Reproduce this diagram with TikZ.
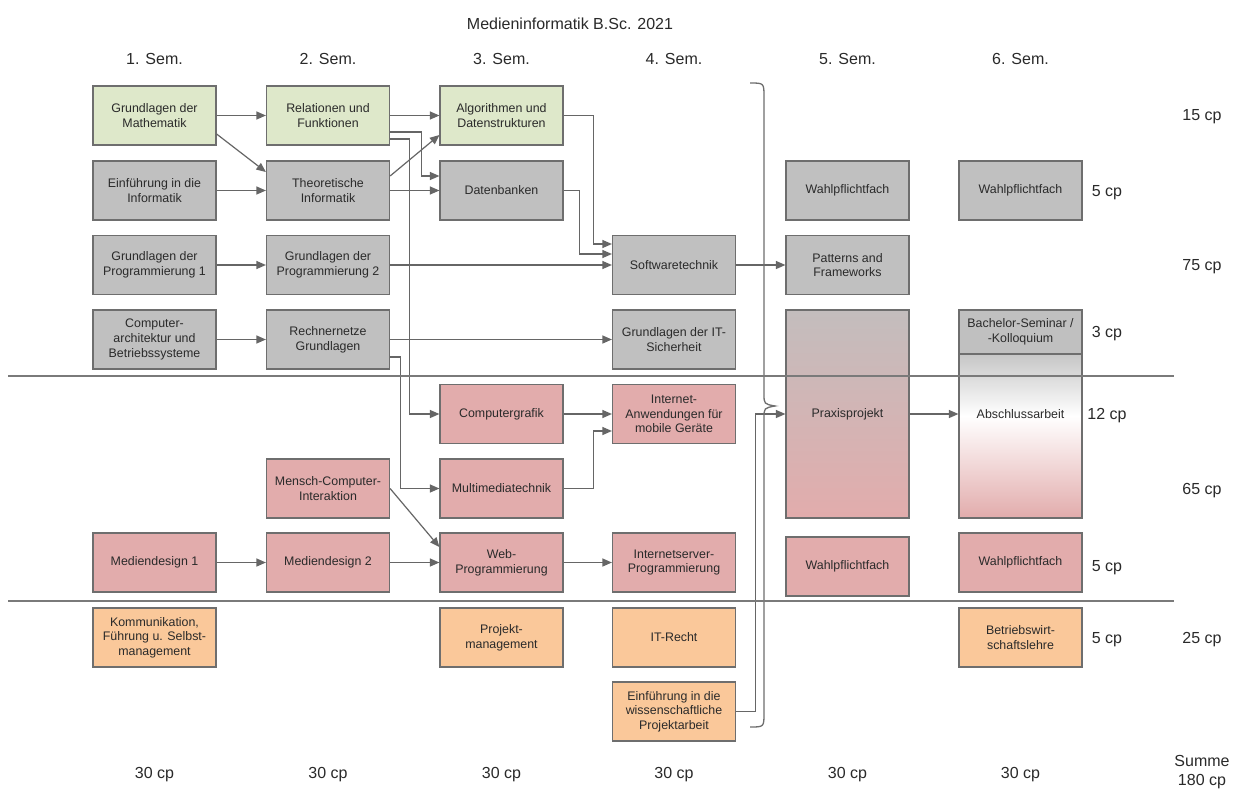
\documentclass[tikz,border=0pt]{standalone}
\usepackage{fontspec}
\setmainfont{Liberation Sans}
\usetikzlibrary{arrows.meta,calc}
\definecolor{bordc}{HTML}{6E6E6E}
\definecolor{linec}{HTML}{666666}
\definecolor{txtc}{HTML}{2A2A2A}
\definecolor{grn}{HTML}{DEE8CA}
\definecolor{gry}{HTML}{C0C0C0}
\definecolor{pnk}{HTML}{E2ACAC}
\definecolor{org}{HTML}{FAC89A}
\definecolor{prtop}{HTML}{C3BDBD}
\definecolor{abtop}{HTML}{C6C6C6}
\definecolor{sepc}{HTML}{7A7A7A}
\tikzset{
  mod/.style={draw=bordc, line width=1.2pt, minimum width=123pt, minimum height=59pt,
    inner sep=0pt, align=center, font=\fontsize{12.4}{14.7}\selectfont, text=txtc},
  gmod/.style={mod, fill=grn},
  ymod/.style={mod, fill=gry},
  pmod/.style={mod, fill=pnk},
  omod/.style={mod, fill=org},
  lbl/.style={font=\fontsize{16}{20}\selectfont, text=txtc, inner sep=0pt, align=center, yshift=-2pt},
  arr/.style={draw=linec, line width=1.2pt, -{Triangle[length=9.5pt,width=8pt]}},
  sep/.style={draw=sepc, line width=1.2pt},
  brace/.style={draw=bordc, line width=1.3pt}
}
\begin{document}
\begin{tikzpicture}[x=1pt,y=-1pt]
\useasboundingbox[fill=white] (0,0) rectangle (1236,790);

% title and headers
\node[lbl] (title) at (570,22) {Medieninformatik B.Sc. 2021};
\node[lbl] (h1) at (154.5,57) {1. Sem.};
\node[lbl] (h2) at (328,57) {2. Sem.};
\node[lbl] (h3) at (501.5,57) {3. Sem.};
\node[lbl] (h4) at (674,57) {4. Sem.};
\node[lbl] (h5) at (847.5,57) {5. Sem.};
\node[lbl] (h6) at (1020.5,57) {6. Sem.};

% column 1
\node[gmod] (gdm)  at (154.5,115.5) {Grundlagen der\\Mathematik};
\node[ymod] (eidi) at (154.5,190.5) {Einführung in die\\Informatik};
\node[ymod] (gdp1) at (154.5,265)   {Grundlagen der\\Programmierung 1};
\node[ymod] (carch) at (154.5,339.5) {Computer-\\architektur und\\Betriebssysteme};
\node[pmod] (md1)  at (154.5,562.5) {Mediendesign 1};
\node[omod] (kfs)  at (154.5,637.5) {Kommunikation,\\Führung u. Selbst-\\management};

% column 2
\node[gmod] (ruf)  at (328,115.5) {Relationen und\\Funktionen};
\node[ymod] (ti)   at (328,190.5) {Theoretische\\Informatik};
\node[ymod] (gdp2) at (328,265)   {Grundlagen der\\Programmierung 2};
\node[ymod] (rng)  at (328,339.5) {Rechnernetze\\Grundlagen};
\node[pmod] (mci)  at (328,488.5) {Mensch-Computer-\\Interaktion};
\node[pmod] (md2)  at (328,562.5) {Mediendesign 2};

% column 3
\node[gmod] (aud)  at (501.5,115.5) {Algorithmen und\\Datenstrukturen};
\node[ymod] (db)   at (501.5,190.5) {Datenbanken};
\node[pmod] (cg)   at (501.5,414)   {Computergrafik};
\node[pmod] (mmt)  at (501.5,488.5) {Multimediatechnik};
\node[pmod] (webp) at (501.5,562.5) {Web-\\Programmierung};
\node[omod] (pm)   at (501.5,637.5) {Projekt-\\management};

% column 4
\node[ymod] (swt)  at (674,265)   {Softwaretechnik};
\node[ymod] (its)  at (674,339.5) {Grundlagen der IT-\\Sicherheit};
\node[pmod] (iamg) at (674,414)   {Internet-\\Anwendungen für\\mobile Geräte};
\node[pmod] (isp)  at (674,562.5) {Internetserver-\\Programmierung};
\node[omod] (itr)  at (674,637.5) {IT-Recht};
\node[omod] (ewp)  at (674,711.5) {Einführung in die\\wissenschaftliche\\Projektarbeit};

% column 5
\node[ymod] (wpf1) at (847.5,190.5) {Wahlpflichtfach};
\node[ymod] (puf)  at (847.5,265)   {Patterns and\\Frameworks};
\node[mod, minimum height=208pt, top color=prtop, bottom color=pnk] (prax) at (847.5,414) {Praxisprojekt};
\node[pmod] (wpf2) at (847.5,566.5) {Wahlpflichtfach};

% column 6
\node[ymod] (wpf3) at (1020.5,190.5) {Wahlpflichtfach};
\fill[top color=abtop, bottom color=white, draw=none] (959,354) rectangle (1082,416);
\fill[top color=white, bottom color=pnk, draw=none] (959,416) rectangle (1082,518);
\node[mod, minimum height=164pt] (abs) at (1020.5,436) {};
\node[mod, fill=gry, minimum height=44pt] (bsk) at (1020.5,332) {Bachelor-Seminar /\\-Kolloquium};
\node[mod, draw=none, fill=none, minimum height=0pt, minimum width=0pt] (abstxt) at (1020.5,414) {Abschlussarbeit};
\node[pmod] (wpf4) at (1020.5,562.5) {Wahlpflichtfach};
\node[omod] (bwl)  at (1020.5,637.5) {Betriebswirt-\\schaftslehre};

% cp labels
\node[lbl] (cp15) at (1202,115) {15 cp};
\node[lbl] (cp5a) at (1107,190.5) {5 cp};
\node[lbl] (cp75) at (1202,265) {75 cp};
\node[lbl] (cp3)  at (1107,332) {3 cp};
\node[lbl] (cp12) at (1107,414) {12 cp};
\node[lbl] (cp65) at (1202,488.5) {65 cp};
\node[lbl] (cp5b) at (1107,566) {5 cp};
\node[lbl] (cp5c) at (1107,637.5) {5 cp};
\node[lbl] (cp25) at (1202,637.5) {25 cp};
\node[lbl] (s1) at (154.5,773) {30 cp};
\node[lbl] (s2) at (328,773) {30 cp};
\node[lbl] (s3) at (501.5,773) {30 cp};
\node[lbl] (s4) at (674,773) {30 cp};
\node[lbl] (s5) at (847.5,773) {30 cp};
\node[lbl] (s6) at (1020.5,773) {30 cp};
\node[lbl, font=\fontsize{16}{19}\selectfont] (sum) at (1202,770) {Summe\\180 cp};

% connectors
\draw[arr] (gdm) -- (ruf);
\draw[arr] ($(gdm.east)+(0,18.5)$) -- ($(ti.west)+(0,-18.5)$);
\draw[arr] (eidi) -- (ti);
\draw[arr] (gdp1) -- (gdp2);
\draw[arr] (carch) -- (rng);
\draw[arr] (ruf) -- (aud);
\draw[arr] ($(ti.east)+(0,-14.5)$) -- ($(aud.west)+(0,19.5)$);
\draw[arr] ($(ruf.east)+(0,16.5)$) -- ++(31,0) |- ($(db.west)+(0,-14.5)$);
\draw[arr] (ti) -- (db);
\draw[arr] ($(ruf.east)+(0,23.5)$) -- ++(19,0) |- (cg.west);
\draw[arr] (aud.east) -- ++(30,0) |- ($(swt.west)+(0,-21)$);
\draw[arr] (db.east) -- ++(16,0) |- ($(swt.west)+(0,-11)$);
\draw[arr] (gdp2) -- (swt);
\draw[arr] (swt) -- (puf);
\draw[arr] (rng) -- (its);
\draw[arr] ($(rng.east)+(0,17.5)$) -- ++(10,0) |- (mmt.west);
\draw[arr] (cg) -- (iamg);
\draw[arr] (mmt.east) -- ++(30,0) |- ($(iamg.west)+(0,17)$);
\draw[arr] (mci.east) -- ($(webp.west)+(0,-15.5)$);
\draw[arr] (md1) -- (md2);
\draw[arr] (md2) -- (webp);
\draw[arr] (webp) -- (isp);
\draw[arr] (prax.east) -- (abs.west |- prax.east);
\draw[arr] (ewp.east) -- ++(19,0) |- (prax.west);

% brace
\draw[brace] (750,83) .. controls (764,83) .. (764,97) -- (764,394)
  .. controls (764,404) .. (775,406) .. controls (764,408) .. (764,418)
  -- (764,713) .. controls (764,727) .. (750,727);

% separators
\draw[sep] (8,376) -- (1174,376);
\draw[sep] (8,601) -- (1174,601);
\end{tikzpicture}
\end{document}
